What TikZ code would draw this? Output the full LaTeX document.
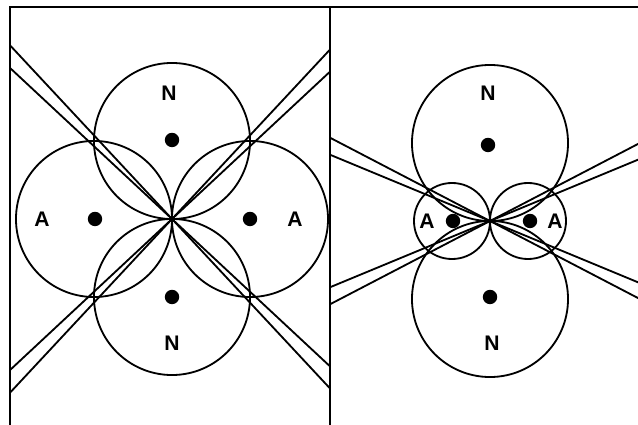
\documentclass[tikz,border=0pt]{standalone}
\usepackage{fontspec}
\setmainfont{Liberation Sans}
\usetikzlibrary{positioning}

\begin{document}
\begin{tikzpicture}[
  x=0.025cm, y=-0.025cm,
  frame/.style={line width=1.6pt},
  ring/.style={draw, circle, minimum size=#1, inner sep=0pt, line width=1.3pt},
  dot/.style={circle, fill=black, minimum size=0.36cm, inner sep=0pt},
  lbl/.style={font=\fontsize{15}{18}\selectfont\bfseries},
  ray/.style={line width=1.3pt},
]
  \useasboundingbox (0,0) rectangle (638,425);

  % left panel
  \coordinate (cL) at (172,219);
  \node[ring=3.9cm] (nTL) at (172,141) {};
  \node[ring=3.9cm] (nBL) at (172,297) {};
  \node[ring=3.9cm] (aLL) at (94,219)  {};
  \node[ring=3.9cm] (aRL) at (250,219) {};
  \node[dot] (dTL) at (172,140) {};
  \node[dot] (dBL) at (172,297) {};
  \node[dot] (dLL) at (95,219)  {};
  \node[dot] (dRL) at (250,219) {};
  \node[lbl] (tTL) at (169,93)  {N};
  \node[lbl] (tBL) at (172,343) {N};
  \node[lbl] (tLL) at (42,219)  {A};
  \node[lbl] (tRL) at (295,219) {A};
  \begin{scope}
    \clip (10,7) rectangle (330,425);
    \foreach \a in {43,47,133,137}
      \draw[ray] ([shift={(\a:-300)}]cL) -- ([shift={(\a:300)}]cL);
  \end{scope}

  % right panel
  \coordinate (cR) at (490,221);
  \node[ring=3.9cm] (nTR) at (490,143) {};
  \node[ring=3.9cm] (nBR) at (490,299) {};
  \node[ring=1.9cm] (aLR) at (452,221) {};
  \node[ring=1.9cm] (aRR) at (528,221) {};
  \node[dot] (dTR) at (488,145) {};
  \node[dot] (dBR) at (490,297) {};
  \node[dot] (dLR) at (453,221) {};
  \node[dot] (dRR) at (530,221) {};
  \node[lbl] (tTR) at (488,93)  {N};
  \node[lbl] (tBR) at (492,343) {N};
  \node[lbl] (tLR) at (427,221) {A};
  \node[lbl] (tRR) at (555,221) {A};
  \begin{scope}
    \clip (330,7) rectangle (638,425);
    \foreach \a in {22.5,27.5,152.5,157.5}
      \draw[ray] ([shift={(\a:-300)}]cR) -- ([shift={(\a:300)}]cR);
  \end{scope}

  % frame
  \draw[frame] (10,425) -- (10,7) -- (638,7);
  \draw[frame] (330,7) -- (330,425);
\end{tikzpicture}
\end{document}
